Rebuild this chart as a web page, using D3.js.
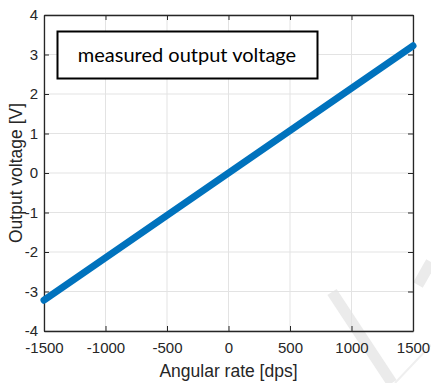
<!DOCTYPE html>
<html>
<head>
<meta charset="utf-8">
<script src="https://cdn.jsdelivr.net/npm/d3@7"></script>
<style>
  body { margin: 0; background: #fff; }
  text { font-family: "Liberation Sans", Arial, sans-serif; }
</style>
</head>
<body>
<div id="chart"></div>
<script>
// data
var rateEnds = [-1500, 1500];
var voltEnds = [-3.22, 3.22];
var xTicks = [-1500, -1000, -500, 0, 500, 1000, 1500];
var yTicks = [-4, -3, -2, -1, 0, 1, 2, 3, 4];
var legendLabel = "measured output voltage";

const width = 431, height = 383;
const m = { left: 44, right: 18, top: 15, bottom: 52 };

const svg = d3.select("#chart").append("svg")
    .attr("width", width)
    .attr("height", height);

const x = d3.scaleLinear().domain([-1500, 1500]).range([m.left, width - m.right]);
const y = d3.scaleLinear().domain([-4, 4]).range([height - m.bottom, m.top]);

// watermark strokes (faint)
svg.append("path")
    .attr("d", "M332,292 L392,383")
    .style("stroke", "#ebebeb").style("stroke-width", 11).style("fill", "none");
svg.append("path")
    .attr("d", "M418,285 L431,262")
    .style("stroke", "#ebebeb").style("stroke-width", 11).style("fill", "none");
svg.append("path")
    .attr("d", "M395,383 L431,345")
    .style("stroke", "#efefef").style("stroke-width", 2).style("fill", "none");

// grid
svg.append("g").selectAll("line").data(xTicks).enter().append("line")
    .attr("x1", d => x(d)).attr("x2", d => x(d))
    .attr("y1", y(-4)).attr("y2", y(4))
    .style("stroke", "#e3e3e3").style("stroke-width", 1);
svg.append("g").selectAll("line").data(yTicks).enter().append("line")
    .attr("x1", x(-1500)).attr("x2", x(1500))
    .attr("y1", d => y(d)).attr("y2", d => y(d))
    .style("stroke", "#e3e3e3").style("stroke-width", 1);

// axes
const fmt = d => String(d);
const xAxis = svg.append("g")
    .attr("transform", `translate(0,${y(-4)})`)
    .call(d3.axisBottom(x).tickValues(xTicks).tickFormat(fmt).tickSizeInner(-5).tickSizeOuter(0).tickPadding(11));
const xAxisTop = svg.append("g")
    .attr("transform", `translate(0,${y(4)})`)
    .call(d3.axisTop(x).tickValues(xTicks).tickSizeInner(-5).tickSizeOuter(0).tickFormat(""));
const yAxis = svg.append("g")
    .attr("transform", `translate(${x(-1500)},0)`)
    .call(d3.axisLeft(y).tickValues(yTicks).tickFormat(fmt).tickSizeInner(-5).tickSizeOuter(0).tickPadding(6));
const yAxisRight = svg.append("g")
    .attr("transform", `translate(${x(1500)},0)`)
    .call(d3.axisRight(y).tickValues(yTicks).tickSizeInner(-5).tickSizeOuter(0).tickFormat(""));

[xAxis, xAxisTop, yAxis, yAxisRight].forEach(function (a) {
    a.attr("font-size", null);
    a.select(".domain").style("stroke", "#262626").style("stroke-width", 1.3);
    a.selectAll(".tick line").style("stroke", "#262626");
    a.selectAll(".tick text").style("fill", "#262626").style("font-size", "15px");
});

// line
svg.append("path")
    .datum(rateEnds.map((r, i) => [r, voltEnds[i]]))
    .attr("d", d3.line().x(d => x(d[0])).y(d => y(d[1])))
    .style("fill", "none")
    .style("stroke", "#0072BD")
    .style("stroke-width", 7)
    .style("stroke-linecap", "round");

// legend box
svg.append("rect")
    .attr("x", 57.5).attr("y", 31.5)
    .attr("width", 260).attr("height", 47)
    .style("fill", "#fff").style("stroke", "#000").style("stroke-width", 2);
svg.append("text")
    .attr("x", 187).attr("y", 62)
    .attr("text-anchor", "middle")
    .style("font-family", "Lato, 'Open Sans', sans-serif")
    .style("font-size", "20px")
    .style("fill", "#000")
    .text(legendLabel);

// axis labels
svg.append("text")
    .attr("x", x(0)).attr("y", 377)
    .attr("text-anchor", "middle")
    .style("font-size", "17.5px").style("fill", "#262626")
    .text("Angular rate [dps]");
svg.append("text")
    .attr("transform", `translate(22,${y(0)}) rotate(-90)`)
    .attr("text-anchor", "middle")
    .style("font-size", "17.5px").style("fill", "#262626")
    .text("Output voltage [V]");
</script>
</body>
</html>
